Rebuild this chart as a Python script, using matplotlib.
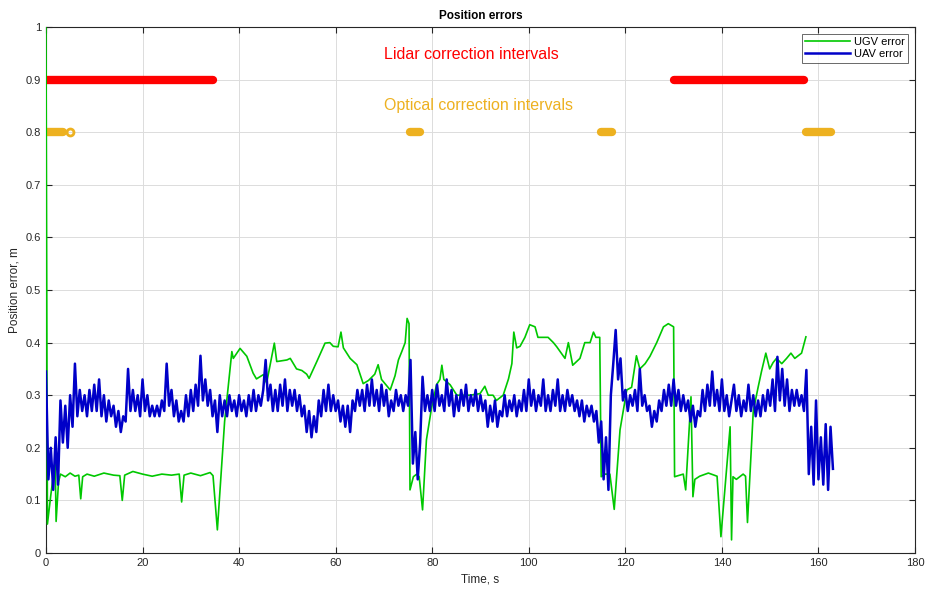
import numpy as np
import matplotlib
matplotlib.use("Agg")
import matplotlib.pyplot as plt

plt.rcParams['font.family'] = ['Liberation Sans', 'DejaVu Sans']

# UGV error (time, s / error, m)
ugv_t = [0, 0.3, 1.0, 1.9, 2.1, 2.6, 3.0, 4.0, 5.0, 6.0,
         6.8, 7.2, 7.6, 8.5, 10, 12, 14, 15.3, 15.8, 16.3,
         18, 20, 22, 24, 26, 27.6, 28.1, 28.6, 30, 32,
         34, 34.6, 35.5, 37.0, 38.5, 38.8, 40.2, 41.6, 42.9, 43.6,
         45.0, 45.7, 47.3, 47.8, 49.9, 50.6, 51.9, 53.0, 54.0, 54.5,
         56.1, 57.8, 58.8, 59.5, 60.5, 61.1, 61.6, 63.0, 64.4, 65.7,
         66.8, 68.1, 68.8, 69.5, 71.3, 72.3, 73.0, 73.7, 74.4, 74.8,
         75.2, 75.4, 76.1, 76.8, 77.3, 78.0, 78.8, 79.9, 80.9, 81.6,
         82.0, 82.4, 83.7, 85.1, 86.4, 87.8, 89.9, 90.9, 91.6, 92.6,
         93.3, 94.7, 95.8, 96.5, 96.9, 97.5, 98.2, 99.2, 100.2, 101.3,
         101.9, 103.0, 104.0, 105.1, 105.8, 107.5, 108.2, 109.1, 110.6, 111.6,
         112.7, 113.4, 113.9, 114.7, 115.0, 115.8, 116.8, 117.7, 118.9, 120.3,
         121.3, 122.3, 123.0, 124.1, 125.1, 126.5, 127.9, 128.9, 130.0, 130.2,
         131.3, 132.0, 132.5, 133.6, 134.0, 134.4, 135.4, 137.2, 139.0, 139.8,
         141.7, 142.0, 142.3, 143.0, 144.4, 144.9, 145.3, 146.5, 147.5, 148.2,
         149.1, 149.9, 150.6, 151.3, 152.4, 153.4, 154.3, 155.1, 156.5, 157.4]
ugv_err = [1.0, 0.055, 0.11, 0.175, 0.06, 0.135, 0.15, 0.145, 0.152, 0.146,
           0.148, 0.103, 0.145, 0.15, 0.146, 0.152, 0.148, 0.147, 0.10, 0.148,
           0.155, 0.15, 0.146, 0.15, 0.148, 0.15, 0.097, 0.148, 0.152, 0.147,
           0.153, 0.147, 0.044, 0.25, 0.383, 0.37, 0.389, 0.374, 0.342, 0.331,
           0.339, 0.323, 0.399, 0.364, 0.367, 0.37, 0.35, 0.347, 0.34, 0.332,
           0.364, 0.399, 0.40, 0.393, 0.392, 0.42, 0.39, 0.37, 0.358, 0.322,
           0.328, 0.34, 0.358, 0.33, 0.31, 0.337, 0.367, 0.383, 0.40, 0.446,
           0.436, 0.12, 0.145, 0.15, 0.145, 0.082, 0.215, 0.278, 0.32, 0.33,
           0.357, 0.33, 0.32, 0.30, 0.30, 0.30, 0.303, 0.317, 0.30, 0.30,
           0.29, 0.30, 0.331, 0.36, 0.42, 0.39, 0.393, 0.41, 0.434, 0.43,
           0.41, 0.41, 0.41, 0.40, 0.392, 0.37, 0.40, 0.357, 0.37, 0.40,
           0.40, 0.42, 0.41, 0.41, 0.145, 0.15, 0.15, 0.083, 0.234, 0.31,
           0.315, 0.375, 0.35, 0.36, 0.374, 0.40, 0.43, 0.436, 0.43, 0.145,
           0.148, 0.15, 0.12, 0.297, 0.107, 0.14, 0.146, 0.152, 0.146, 0.031,
           0.24, 0.025, 0.145, 0.14, 0.15, 0.146, 0.058, 0.27, 0.315, 0.345,
           0.38, 0.35, 0.362, 0.37, 0.36, 0.37, 0.38, 0.37, 0.38, 0.411]

# UAV error, sampled every 0.5 s from t = 0 (one row = 5 s)
uav_dt = 0.5
uav_err = [
    0.345, 0.14, 0.20, 0.12, 0.22, 0.13, 0.29, 0.21, 0.28, 0.20,
    0.30, 0.24, 0.36, 0.26, 0.31, 0.27, 0.30, 0.26, 0.31, 0.27,
    0.32, 0.27, 0.33, 0.26, 0.30, 0.25, 0.29, 0.26, 0.28, 0.24,
    0.27, 0.23, 0.26, 0.25, 0.35, 0.27, 0.31, 0.27, 0.30, 0.26,
    0.33, 0.27, 0.30, 0.26, 0.28, 0.26, 0.28, 0.26, 0.29, 0.27,
    0.36, 0.28, 0.31, 0.26, 0.29, 0.25, 0.27, 0.25, 0.30, 0.26,
    0.31, 0.27, 0.32, 0.28, 0.375, 0.29, 0.33, 0.28, 0.31, 0.26,
    0.29, 0.23, 0.30, 0.26, 0.29, 0.26, 0.30, 0.27, 0.29, 0.26,
    0.30, 0.27, 0.29, 0.26, 0.30, 0.27, 0.31, 0.27, 0.30, 0.28,
    0.31, 0.367, 0.29, 0.32, 0.27, 0.31, 0.27, 0.32, 0.28, 0.33,
    0.27, 0.31, 0.28, 0.31, 0.27, 0.30, 0.26, 0.28, 0.23, 0.27,
    0.22, 0.26, 0.23, 0.29, 0.26, 0.31, 0.27, 0.32, 0.27, 0.30,
    0.27, 0.29, 0.25, 0.28, 0.24, 0.28, 0.23, 0.29, 0.27, 0.31,
    0.28, 0.31, 0.27, 0.32, 0.28, 0.33, 0.28, 0.31, 0.27, 0.32,
    0.28, 0.31, 0.26, 0.29, 0.27, 0.31, 0.28, 0.30, 0.27, 0.30,
    0.28, 0.367, 0.17, 0.23, 0.14, 0.21, 0.335, 0.27, 0.30, 0.27,
    0.31, 0.27, 0.32, 0.28, 0.30, 0.27, 0.33, 0.28, 0.31, 0.26,
    0.30, 0.27, 0.31, 0.28, 0.32, 0.27, 0.30, 0.28, 0.31, 0.27,
    0.30, 0.27, 0.29, 0.24, 0.28, 0.25, 0.29, 0.24, 0.27, 0.26,
    0.30, 0.26, 0.29, 0.27, 0.30, 0.26, 0.29, 0.27, 0.31, 0.27,
    0.33, 0.28, 0.31, 0.27, 0.30, 0.28, 0.33, 0.27, 0.30, 0.27,
    0.31, 0.28, 0.33, 0.27, 0.30, 0.27, 0.31, 0.28, 0.30, 0.27,
    0.29, 0.26, 0.29, 0.25, 0.28, 0.26, 0.28, 0.25, 0.27, 0.21,
    0.25, 0.14, 0.22, 0.12, 0.30, 0.36, 0.424, 0.33, 0.37, 0.29,
    0.31, 0.27, 0.30, 0.28, 0.31, 0.27, 0.35, 0.28, 0.30, 0.27,
    0.28, 0.24, 0.27, 0.25, 0.29, 0.27, 0.31, 0.28, 0.32, 0.28,
    0.33, 0.28, 0.31, 0.27, 0.30, 0.27, 0.29, 0.25, 0.28, 0.24,
    0.27, 0.26, 0.31, 0.27, 0.32, 0.28, 0.345, 0.28, 0.31, 0.27,
    0.33, 0.27, 0.30, 0.26, 0.29, 0.32, 0.27, 0.30, 0.26, 0.29,
    0.27, 0.32, 0.27, 0.30, 0.26, 0.29, 0.26, 0.30, 0.27, 0.31,
    0.28, 0.33, 0.27, 0.373, 0.29, 0.35, 0.28, 0.33, 0.27, 0.31,
    0.28, 0.31, 0.28, 0.30, 0.27, 0.348, 0.15, 0.24, 0.13, 0.29,
    0.14, 0.22, 0.13, 0.245, 0.12, 0.24, 0.16]

# correction intervals (start, end in s)
lidar_intervals = [(0.0, 34.6), (130.1, 157.0)]
optical_intervals = [(0.0, 3.6), (75.3, 77.4), (114.9, 117.2), (157.4, 162.6)]
optical_single = [5.0]
lidar_level = 0.9
optical_level = 0.8

green = '#00C800'
blue = '#0000C8'
red = '#FF0000'
orange = '#EDB120'

uav_t = np.arange(len(uav_err)) * uav_dt

fig = plt.figure(figsize=(9.25, 5.9), dpi=100)
ax = fig.add_axes([0.0497, 0.0627, 0.9395, 0.8915])

for s, e in lidar_intervals:
    ax.plot([s, e], [lidar_level, lidar_level], color=red, lw=6,
            solid_capstyle='round', zorder=3)
for s, e in optical_intervals:
    ax.plot([s, e], [optical_level, optical_level], color=orange, lw=6,
            solid_capstyle='round', zorder=3)
ax.plot(optical_single, [optical_level] * len(optical_single), 'o', ms=5,
        mfc='none', mec=orange, mew=2, zorder=3)

ax.plot(ugv_t, ugv_err, color=green, lw=1.2, label='UGV error', zorder=4)
ax.plot(uav_t, uav_err, color=blue, lw=1.8, label='UAV error', zorder=5)

ax.text(70, 0.947, 'Lidar correction intervals', color=red, fontsize=11.5,
        va='center', ha='left')
ax.text(70, 0.85, 'Optical correction intervals', color=orange, fontsize=11.5,
        va='center', ha='left')

ax.set_xlim(0, 180)
ax.set_ylim(0, 1)
ax.set_xticks(np.arange(0, 181, 20))
ax.set_yticks(np.arange(0, 1.01, 0.1))
ax.set_yticklabels(['0', '0.1', '0.2', '0.3', '0.4', '0.5', '0.6', '0.7', '0.8', '0.9', '1'])
ax.grid(True, color='#DCDCDC', lw=0.7)
ax.set_axisbelow(True)
ax.tick_params(direction='in', top=True, right=True, labelsize=8, colors='#262626',
               length=4)
for sp in ax.spines.values():
    sp.set_color('#262626')
    sp.set_linewidth(0.8)

ax.set_title('Position errors', fontsize=8.5, fontweight='bold', pad=6)
ax.set_xlabel('Time, s', fontsize=8.5, color='#262626', labelpad=4)
ax.set_ylabel('Position error, m', fontsize=8.5, color='#262626', labelpad=4)

leg = ax.legend(loc='upper right', fontsize=8, frameon=True, fancybox=False,
                edgecolor='#262626', borderaxespad=0.6, handlelength=4,
                handletextpad=0.4, borderpad=0.3, labelspacing=0.2)
leg.get_frame().set_linewidth(0.6)

fig.savefig('out.png', dpi=100)
